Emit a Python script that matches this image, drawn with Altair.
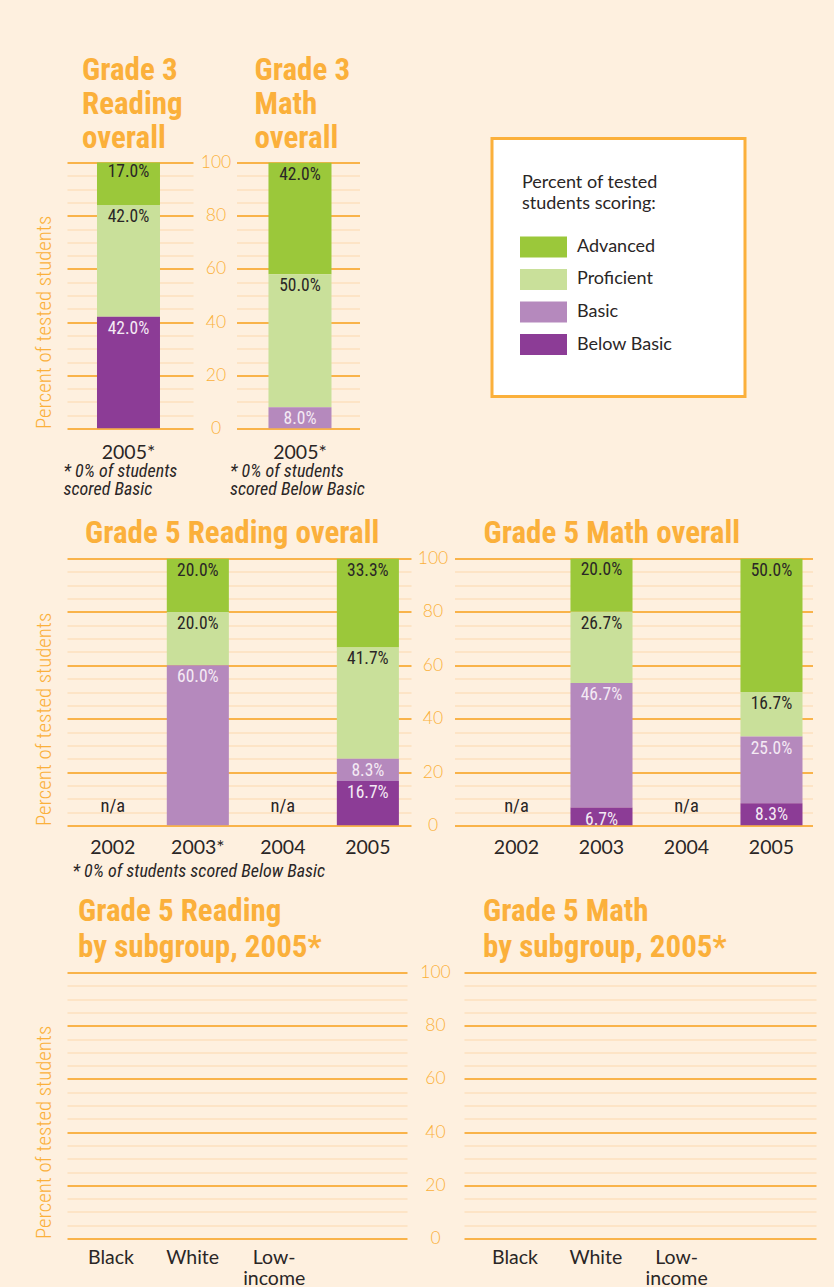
import altair as alt
import pandas as pd

# ---------------- data ----------------
LEVELS = ["Advanced", "Proficient", "Basic", "Below Basic"]
LEVEL_COLORS = ["#9BC83A", "#C9E09A", "#B589BD", "#8C3C96"]
STACK_RANK = [3, 2, 1, 0]  # 0 = bottom of the stack

G3_YEARS = ["2005*"]
G3_READ_ADVANCED = [17.0]
G3_READ_PROFICIENT = [42.0]
G3_READ_BASIC = [None]
G3_READ_BELOW = [42.0]

G3_MATH_ADVANCED = [42.0]
G3_MATH_PROFICIENT = [50.0]
G3_MATH_BASIC = [8.0]
G3_MATH_BELOW = [None]

G5_READ_YEARS = ["2002", "2003*", "2004", "2005"]
G5_READ_ADVANCED = [None, 20.0, None, 33.3]
G5_READ_PROFICIENT = [None, 20.0, None, 41.7]
G5_READ_BASIC = [None, 60.0, None, 8.3]
G5_READ_BELOW = [None, None, None, 16.7]

G5_MATH_YEARS = ["2002", "2003", "2004", "2005"]
G5_MATH_ADVANCED = [None, 20.0, None, 50.0]
G5_MATH_PROFICIENT = [None, 26.7, None, 16.7]
G5_MATH_BASIC = [None, 46.7, None, 25.0]
G5_MATH_BELOW = [None, 6.7, None, 8.3]

SUBGROUPS = ["Black", "White", "Low-income"]
SUBGROUP_READ = [None, None, None]
SUBGROUP_MATH = [None, None, None]

LEGEND_HEADING = ["Percent of tested", "students scoring:"]

Y_TICKS = list(range(0, 101, 5))

# ---------------- styles ----------------
ORANGE = "#FBB03B"
GRID_MAJOR = "#F9B34A"
GRID_MINOR = "#FCE0BE"
DARK = "#2A2626"
LIGHT = "#F4EAF4"
BG = "#FEF0DF"
COND = "'Roboto Condensed', Roboto, 'Liberation Sans', sans-serif"
SANS = "Lato, 'Liberation Sans', sans-serif"

COLOR_SCALE = alt.Scale(domain=LEVELS, range=LEVEL_COLORS)
GRID_COLOR = {"condition": {"test": "datum.value % 20 === 0", "value": GRID_MAJOR}, "value": GRID_MINOR}
GRID_WIDTH = {"condition": {"test": "datum.value % 20 === 0", "value": 2}, "value": 1.5}


def long_table(cats, adv, prof, basic, below):
    rows = []
    for level, vals in zip(LEVELS, [adv, prof, basic, below]):
        for c, v in zip(cats, vals):
            if v is not None:
                rows.append({"cat": c, "level": level, "value": v,
                             "rank": STACK_RANK[LEVELS.index(level)]})
    return pd.DataFrame(rows)


def na_table(cats, *series):
    keep = [c for i, c in enumerate(cats) if all(s[i] is None for s in series)]
    return pd.DataFrame({"cat": keep, "note": ["n/a"] * len(keep)})


def y_axis_left(height):
    return alt.Axis(values=Y_TICKS, labels=False, ticks=False, tickSize=0, domain=False,
                    grid=True, gridColor=GRID_COLOR, gridWidth=GRID_WIDTH,
                    title="Percent of tested students", titleFont=COND, titleFontSize=20.8,
                    titleFontWeight=300, titleColor=ORANGE, titleAngle=270,
                    titleAlign="left", titleBaseline="bottom", titleX=-12.2, titleY=height)


def y_axis_right(label_pad):
    return alt.Axis(values=Y_TICKS, labelExpr="datum.value % 20 === 0 ? datum.label : ''",
                    ticks=False, tickSize=0, domain=False, grid=True, gridColor=GRID_COLOR,
                    gridWidth=GRID_WIDTH, labelAlign="center", labelBaseline="middle",
                    labelPadding=label_pad, labelFont=SANS, labelFontSize=17.5,
                    labelFontWeight=300, labelColor=ORANGE, labelOverlap=False,
                    labelFlush=False, title=None)


def x_axis(label_pad, note=None, note_x=0, note_y=48):
    kw = dict(labelFont=SANS, labelFontSize=19.5, labelColor=DARK, labelAngle=0,
              labelPadding=label_pad, labelBaseline="alphabetic", labelLineHeight=21,
              labelExpr="datum.value == 'Low-income' ? ['Low-', 'income'] : datum.label",
              domain=False, ticks=False, tickSize=0, grid=False)
    if note is None:
        kw["title"] = None
    else:
        kw.update(title=note, titleFont=COND, titleFontSize=18, titleFontWeight="normal",
                  titleFontStyle="italic", titleColor=DARK, titleAlign="left",
                  titleAnchor="start", titleX=note_x, titleY=note_y,
                  titleBaseline="alphabetic", titleLineHeight=18)
    return alt.Axis(**kw)


def chart_title(lines, dx, offset, line_height):
    return alt.TitleParams(text=lines, font=COND, fontSize=31, fontWeight="bold",
                           color=ORANGE, anchor="start", frame="group", dx=dx,
                           offset=offset, lineHeight=line_height)


def bar_panel(df, na_df, cats, x_scale, xaxis, yaxis, title, width, height):
    x = alt.X("cat:N", sort=cats, scale=x_scale, axis=xaxis)
    y = alt.Y("value:Q", stack="zero", scale=alt.Scale(domain=[0, 100]), axis=yaxis)
    order = alt.Order("rank:Q", sort="ascending")
    bars = alt.Chart(df).mark_bar(clip=True).encode(
        x=x, y=y, color=alt.Color("level:N", scale=COLOR_SCALE, legend=None), order=order)
    labels = alt.Chart(df).transform_calculate(
        lbl="format(datum.value, '.1f') + '%'"
    ).mark_text(dy=17, baseline="alphabetic", font=COND, fontSize=17.5).encode(
        x=x, y=y, detail="level:N", order=order, text="lbl:N",
        color=alt.condition("datum.level === 'Basic' || datum.level === 'Below Basic'",
                            alt.value(LIGHT), alt.value(DARK)))
    layers = [bars, labels]
    if na_df is not None and len(na_df):
        na = alt.Chart(na_df).mark_text(dy=-14, baseline="alphabetic", font=COND,
                                        fontSize=18.5, color=DARK).encode(
            x=x, y=alt.Y(datum=0, scale=alt.Scale(domain=[0, 100]), axis=yaxis),
            text="note:N")
        layers.append(na)
    return alt.layer(*layers).properties(width=width, height=height, title=title)


def empty_panel(values, x_scale, xaxis, yaxis, title, width, height):
    df = pd.DataFrame({"cat": SUBGROUPS, "value": values})
    return alt.Chart(df).mark_bar().encode(
        x=alt.X("cat:N", scale=x_scale, axis=xaxis),
        y=alt.Y("value:Q", scale=alt.Scale(domain=[0, 100]), axis=yaxis),
    ).properties(width=width, height=height, title=title)


# ---------------- row 1 ----------------
g3r = bar_panel(
    long_table(G3_YEARS, G3_READ_ADVANCED, G3_READ_PROFICIENT, G3_READ_BASIC, G3_READ_BELOW),
    None, G3_YEARS,
    alt.Scale(paddingInner=0, paddingOuter=0.5, align=0.476),
    x_axis(30, ["* 0% of students", "scored Basic"], -4, 48),
    y_axis_left(266),
    chart_title(["Grade 3", "Reading", "overall"], 15, 7.5, 34), 126, 266)

g3m = bar_panel(
    long_table(G3_YEARS, G3_MATH_ADVANCED, G3_MATH_PROFICIENT, G3_MATH_BASIC, G3_MATH_BELOW),
    None, G3_YEARS,
    alt.Scale(paddingInner=0, paddingOuter=0.476, align=0.533),
    x_axis(30, ["* 0% of students", "scored Below Basic"], -7, 48),
    y_axis_right(21),
    chart_title(["Grade 3", "Math", "overall"], 18, -1.5, 34), 123, 266)

# legend key: white framed box, swatches placed on a band scale
legend_df = pd.DataFrame({"level": LEVELS})
legend_y = alt.Y("level:N", sort=LEVELS, axis=None,
                 scale=alt.Scale(paddingInner=0.354, paddingOuter=0, range=[74, 192.5]))
legend_frame = alt.Chart(pd.DataFrame({"heading": [" ".join(LEGEND_HEADING)]})).mark_rect(
    fill="white", stroke=ORANGE, strokeWidth=3
).encode(x=alt.value(0), x2=alt.value(253), y=alt.value(-24), y2=alt.value(234))
legend_rect = alt.Chart(legend_df).mark_rect().encode(
    y=legend_y, x=alt.value(28), x2=alt.value(75),
    color=alt.Color("level:N", scale=COLOR_SCALE, legend=None))
legend_text = alt.Chart(legend_df).mark_text(
    align="left", baseline="middle", font=SANS, fontSize=18, color=DARK
).encode(y=legend_y, x=alt.value(85), text="level:N")
legend_box = alt.layer(legend_frame, legend_rect, legend_text).properties(
    width=253, height=258,
    title=alt.TitleParams(text=LEGEND_HEADING, font=SANS,
                          fontSize=18, fontWeight="normal", color=DARK, anchor="start",
                          frame="group", dx=30, offset=-76.3, lineHeight=21))

g3_pair = alt.concat(g3r, g3m, columns=2, spacing=6.5, align="none")
row1 = alt.concat(g3_pair, legend_box, columns=2, spacing=125, align="none")

# ---------------- row 2 ----------------
g5r = bar_panel(
    long_table(G5_READ_YEARS, G5_READ_ADVANCED, G5_READ_PROFICIENT, G5_READ_BASIC, G5_READ_BELOW),
    na_table(G5_READ_YEARS, G5_READ_ADVANCED, G5_READ_PROFICIENT, G5_READ_BASIC, G5_READ_BELOW),
    G5_READ_YEARS,
    alt.Scale(paddingInner=0.27, paddingOuter=0.158, align=0.55),
    x_axis(28, "* 0% of students scored Below Basic", 5, 51),
    y_axis_left(267),
    chart_title(["Grade 5 Reading overall"], 18, 8.5, 34), 344, 267)

g5m = bar_panel(
    long_table(G5_MATH_YEARS, G5_MATH_ADVANCED, G5_MATH_PROFICIENT, G5_MATH_BASIC, G5_MATH_BELOW),
    na_table(G5_MATH_YEARS, G5_MATH_ADVANCED, G5_MATH_PROFICIENT, G5_MATH_BASIC, G5_MATH_BELOW),
    G5_MATH_YEARS,
    alt.Scale(paddingInner=0.27, paddingOuter=0.241, align=0.756),
    x_axis(28),
    y_axis_right(22),
    chart_title(["Grade 5 Math overall"], 29, -0.5, 34), 358, 267)

row2 = alt.concat(g5r, g5m, columns=2, spacing=5.5, align="none")

# ---------------- row 3 ----------------
subr = empty_panel(
    SUBGROUP_READ,
    alt.Scale(domain=SUBGROUPS, paddingInner=0.28, paddingOuter=0.7234, align=0.124),
    x_axis(25), y_axis_left(266),
    chart_title(["Grade 5 Reading", "by subgroup, 2005*"], 11, 8.5, 36), 340, 266)

subm = empty_panel(
    SUBGROUP_MATH,
    alt.Scale(domain=SUBGROUPS, paddingInner=0.28, paddingOuter=0.818, align=0.166),
    x_axis(25), y_axis_right(29),
    chart_title(["Grade 5 Math", "by subgroup, 2005*"], 19, -0.5, 36), 352, 266)

row3 = alt.concat(subr, subm, columns=2, spacing=12, align="none")

top_rows = alt.concat(row1, row2, columns=1, spacing=19, align="none")
chart = alt.concat(top_rows, row3, columns=1, spacing=15, align="none").properties(
    background=BG, padding={"left": 33, "top": 54.5, "right": 18, "bottom": 0}
).configure_view(strokeWidth=0)

chart.save("out.html", embed_options={"renderer": "svg", "actions": False})
